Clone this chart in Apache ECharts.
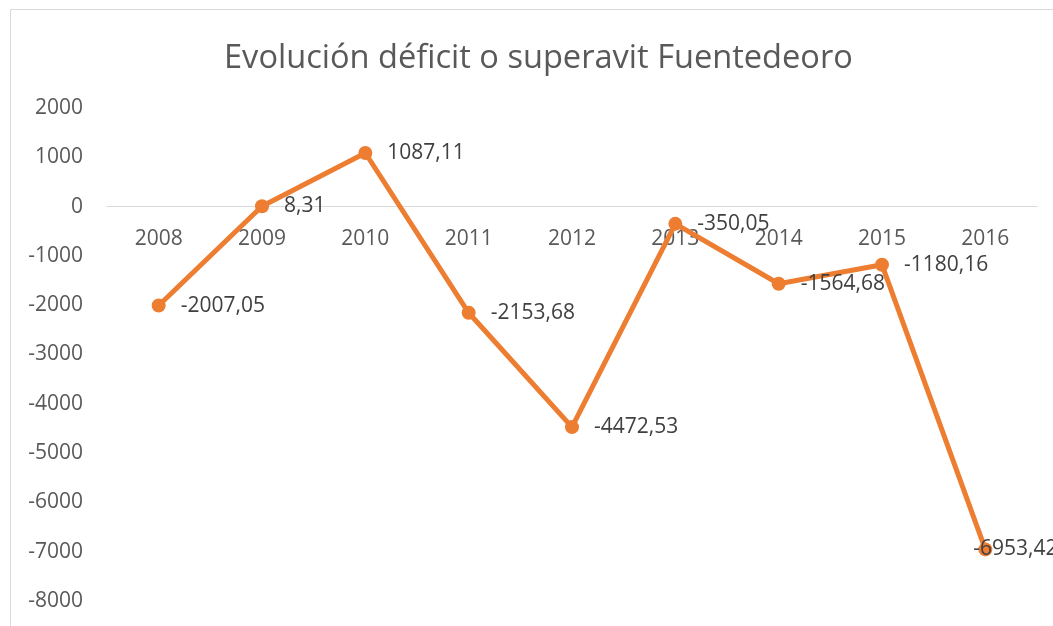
<!DOCTYPE html>
<html>
<head>
<meta charset="utf-8">
<script src="https://cdn.jsdelivr.net/npm/echarts@6/dist/echarts.min.js"></script>
<style>
  body { margin: 0; background: #fff; }
  #chart { width: 1053px; height: 626px; }
</style>
</head>
<body>
<div id="chart"></div>
<script>
  var years = ['2008', '2009', '2010', '2011', '2012', '2013', '2014', '2015', '2016'];
  var saldo = [-2007.05, 8.31, 1087.11, -2153.68, -4472.53, -350.05, -1564.68, -1180.16, -6953.42];

  var fontName = 'Open Sans';
  var yMin = -8000, yMax = 2000;
  var gridTop = 108, gridBottom = 25, chartH = 626;
  // shift the category axis up to the zero line
  var plotH = chartH - gridTop - gridBottom;
  var zeroOffset = -plotH * (0 - yMin) / (yMax - yMin);

  var seriesData = saldo.map(function(v, i) {
    var d = { value: v };
    if (i == saldo.length - 1) {
      d.label = { offset: [-34, 0] };
    }
    return d;
  });

  var myChart = echarts.init(document.getElementById('chart'));

  var option = {
    animation: false,
    title: {
      text: 'Evolución déficit o superavit Fuentedeoro',
      left: 219,
      top: 37,
      textStyle: { fontFamily: fontName, fontSize: 32.6, fontWeight: 'normal', color: '#595959' }
    },
    graphic: [{
      type: 'rect',
      shape: { x: 10.5, y: 9.5, width: 1200, height: 800 },
      style: { fill: 'none', stroke: '#d9d9d9', lineWidth: 1 },
      silent: true
    }],
    grid: { left: 107, right: 16, top: gridTop, bottom: gridBottom },
    xAxis: {
      type: 'category',
      data: years,
      boundaryGap: true,
      offset: zeroOffset,
      axisLine: { onZero: false, lineStyle: { color: '#d9d9d9', width: 1 } },
      axisTick: { show: false },
      axisLabel: { margin: 22, fontFamily: fontName, fontSize: 21, color: '#595959' }
    },
    yAxis: {
      type: 'value',
      min: yMin,
      max: yMax,
      interval: 1000,
      splitLine: { show: false },
      axisLine: { show: false },
      axisTick: { show: false },
      axisLabel: {
        margin: 24, fontFamily: fontName, fontSize: 21, color: '#595959',
        formatter: function(v) { return String(v); }
      }
    },
    series: [{
      type: 'line',
      data: seriesData,
      symbol: 'circle',
      symbolSize: 14,
      itemStyle: { color: '#ed7d31' },
      lineStyle: { color: '#ed7d31', width: 5 },
      label: {
        show: true,
        position: 'right',
        distance: 15,
        fontFamily: fontName,
        fontSize: 21,
        color: '#404040',
        formatter: function(p) {
          return p.value.toFixed(2).replace('.', ',');
        }
      }
    }]
  };

  myChart.setOption(option);
</script>
</body>
</html>
